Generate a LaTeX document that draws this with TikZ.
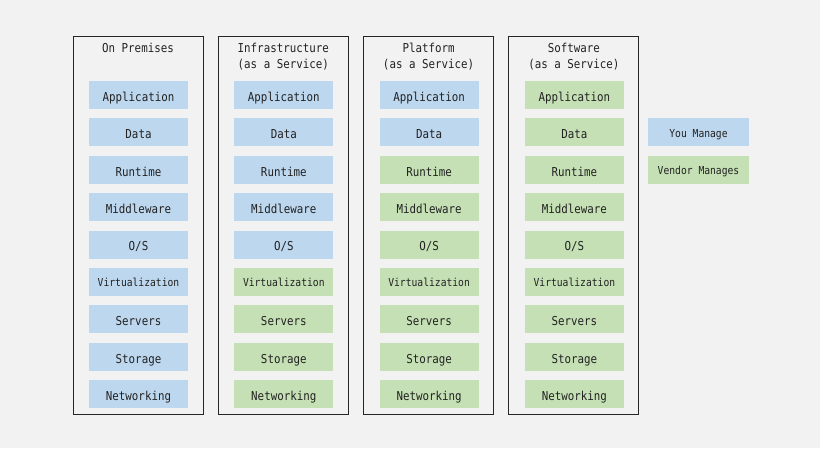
\documentclass[tikz,border=0pt]{standalone}
\usepackage{fontspec}
\setmonofont[FakeStretch=0.88]{DejaVu Sans Mono}
\usepackage{tikz}
\usetikzlibrary{positioning}
\definecolor{paper}{HTML}{F2F2F2}
\definecolor{youblue}{HTML}{BDD7EE}
\definecolor{vendorgreen}{HTML}{C5E0B4}
\definecolor{ink}{HTML}{222222}
\tikzset{font=\ttfamily\fontsize{12.3}{16}\selectfont, text=ink}
\tikzset{layer/.style={shape=rectangle, inner sep=0pt, text height=12.4pt,
    text depth=0pt, minimum width=99pt, minimum height=28pt}}
\tikzset{you/.style={layer, fill=youblue}, vendor/.style={layer, fill=vendorgreen}}
\tikzset{tiny/.style={font=\ttfamily\fontsize{11}{12}\selectfont, text height=9.6pt}}
\tikzset{stack/.style={shape=rectangle, draw=black!85, line width=0.9pt,
    minimum width=130pt, minimum height=378pt, inner sep=0pt}}
\tikzset{heading/.style={anchor=north, align=center, inner sep=0pt}}

\begin{document}
\begin{tikzpicture}[x=1pt, y=-1pt]
    \useasboundingbox[fill=paper] (0,0) rectangle (820,448);
    \begin{scope}
      \node[stack] (op) at (138,225) {};
      \node[heading] (op-t) at (138,42.5) {On Premises};
      \node[you] (op-app) at (138.5,95) {Application};
      \node[you] (op-data) at (138.5,132.4) {Data};
      \node[you] (op-run) at (138.5,169.8) {Runtime};
      \node[you] (op-mid) at (138.5,207.2) {Middleware};
      \node[you] (op-os) at (138.5,244.6) {O/S};
      \node[you, tiny] (op-virt) at (138.5,282) {Virtualization};
      \node[you] (op-srv) at (138.5,319.4) {Servers};
      \node[you] (op-sto) at (138.5,356.8) {Storage};
      \node[you] (op-net) at (138.5,394.2) {Networking};
    \end{scope}
    \begin{scope}[shift={(145.3,0)}]
      \node[stack] (iaas) at (138,225) {};
      \node[heading] (iaas-t) at (138,42.5) {Infrastructure\\(as a Service)};
      \node[you] (iaas-app) at (138.5,95) {Application};
      \node[you] (iaas-data) at (138.5,132.4) {Data};
      \node[you] (iaas-run) at (138.5,169.8) {Runtime};
      \node[you] (iaas-mid) at (138.5,207.2) {Middleware};
      \node[you] (iaas-os) at (138.5,244.6) {O/S};
      \node[vendor, tiny] (iaas-virt) at (138.5,282) {Virtualization};
      \node[vendor] (iaas-srv) at (138.5,319.4) {Servers};
      \node[vendor] (iaas-sto) at (138.5,356.8) {Storage};
      \node[vendor] (iaas-net) at (138.5,394.2) {Networking};
    \end{scope}
    \begin{scope}[shift={(290.6,0)}]
      \node[stack] (paas) at (138,225) {};
      \node[heading] (paas-t) at (138,42.5) {Platform\\(as a Service)};
      \node[you] (paas-app) at (138.5,95) {Application};
      \node[you] (paas-data) at (138.5,132.4) {Data};
      \node[vendor] (paas-run) at (138.5,169.8) {Runtime};
      \node[vendor] (paas-mid) at (138.5,207.2) {Middleware};
      \node[vendor] (paas-os) at (138.5,244.6) {O/S};
      \node[vendor, tiny] (paas-virt) at (138.5,282) {Virtualization};
      \node[vendor] (paas-srv) at (138.5,319.4) {Servers};
      \node[vendor] (paas-sto) at (138.5,356.8) {Storage};
      \node[vendor] (paas-net) at (138.5,394.2) {Networking};
    \end{scope}
    \begin{scope}[shift={(435.9,0)}]
      \node[stack] (saas) at (138,225) {};
      \node[heading] (saas-t) at (138,42.5) {Software\\(as a Service)};
      \node[vendor] (saas-app) at (138.5,95) {Application};
      \node[vendor] (saas-data) at (138.5,132.4) {Data};
      \node[vendor] (saas-run) at (138.5,169.8) {Runtime};
      \node[vendor] (saas-mid) at (138.5,207.2) {Middleware};
      \node[vendor] (saas-os) at (138.5,244.6) {O/S};
      \node[vendor, tiny] (saas-virt) at (138.5,282) {Virtualization};
      \node[vendor] (saas-srv) at (138.5,319.4) {Servers};
      \node[vendor] (saas-sto) at (138.5,356.8) {Storage};
      \node[vendor] (saas-net) at (138.5,394.2) {Networking};
    \end{scope}
    % legend
    \node[you, tiny, minimum width=101pt] (key-you) at (698.5,132.4) {You Manage};
    \node[vendor, tiny, minimum width=101pt] (key-vendor) at (698.5,169.8) {Vendor Manages};
\end{tikzpicture}
\end{document}
